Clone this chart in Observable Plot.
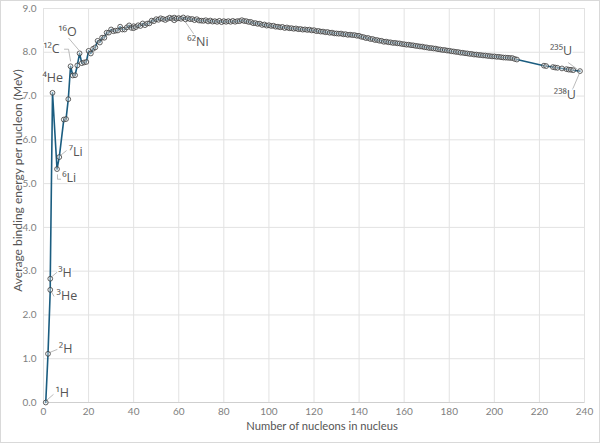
<!DOCTYPE html>
<html><head><meta charset="utf-8">
<script src="https://cdn.jsdelivr.net/npm/d3@7"></script>
<script src="https://cdn.jsdelivr.net/npm/@observablehq/plot@0.6"></script>
<style>
body{margin:0;background:#fff}
#wrap{position:relative;width:600px;height:443px;overflow:hidden}
#border{position:absolute;left:0;top:0;width:600px;height:443px;box-sizing:border-box;border:1px solid #d9d9d9;pointer-events:none}
</style>
</head><body><div id="wrap"><div id="chart"></div><div id="border"></div></div>
<script>
// Mass number A (nucleons) of each nuclide, in drawing order
const massNumbers = [
  1,2,3,3,4,6,7,9,10,11,12,13,14,15,16,17,18,19,20,21,22,23,24,25,26,27,28,29,30,
  31,32,33,34,35,36,37,38,39,40,40,41,42,43,44,45,46,47,48,49,50,51,52,53,54,55,56,57,58,58,
  59,60,61,62,63,64,65,66,67,68,69,70,71,72,73,74,75,76,77,78,79,80,81,82,83,84,85,86,87,88,
  89,90,91,92,93,94,95,96,97,98,99,100,101,102,103,104,105,106,107,108,109,110,111,112,113,114,
  115,116,117,118,119,120,121,122,123,124,125,126,127,128,129,130,131,132,133,134,135,136,137,138,
  139,140,141,142,143,144,145,146,147,148,149,150,151,152,153,154,155,156,157,158,159,160,161,162,
  163,164,165,166,167,168,169,170,171,172,173,174,175,176,177,178,179,180,181,182,183,184,185,186,
  187,188,189,190,191,192,193,194,195,196,197,198,199,200,201,202,203,204,205,206,207,208,209,210,
  222,223,226,227,228,230,232,233,234,235,238
];
// Average binding energy per nucleon (MeV), same order
const bindingEnergies = [
  0.000,1.112,2.573,2.827,7.074,5.332,5.606,6.463,6.475,6.928,7.680,7.470,7.476,7.699,7.976,7.751,7.767,7.779,8.032,7.972,8.080,8.112,8.261,8.223,8.334,8.332,8.448,8.449,8.521,
  8.481,8.493,8.498,8.584,8.520,8.520,8.570,8.614,8.557,8.595,8.551,8.576,8.617,8.601,8.658,8.619,8.656,8.661,8.723,8.711,8.756,8.742,8.776,8.760,8.738,8.765,8.790,8.770,8.792,8.732,
  8.768,8.781,8.765,8.795,8.752,8.777,8.757,8.760,8.734,8.756,8.725,8.722,8.718,8.732,8.705,8.725,8.701,8.711,8.695,8.718,8.688,8.711,8.696,8.711,8.696,8.717,8.697,8.712,8.711,8.733,
  8.714,8.710,8.693,8.693,8.664,8.667,8.649,8.654,8.624,8.635,8.609,8.619,8.601,8.607,8.584,8.585,8.570,8.580,8.554,8.567,8.548,8.551,8.537,8.545,8.527,8.532,
  8.517,8.523,8.510,8.517,8.499,8.505,8.482,8.488,8.472,8.473,8.458,8.463,8.445,8.449,8.431,8.430,8.424,8.428,8.410,8.414,8.398,8.403,8.392,8.393,
  8.378,8.376,8.354,8.346,8.325,8.327,8.303,8.304,8.281,8.280,8.263,8.262,8.239,8.244,8.229,8.227,8.213,8.215,8.204,8.202,8.189,8.184,8.173,8.174,
  8.162,8.159,8.147,8.142,8.132,8.130,8.115,8.112,8.098,8.097,8.087,8.084,8.069,8.064,8.052,8.052,8.039,8.035,8.023,8.018,8.008,8.005,7.991,7.989,
  7.978,7.974,7.963,7.962,7.948,7.948,7.938,7.936,7.927,7.926,7.916,7.914,7.905,7.906,7.896,7.897,7.887,7.880,7.878,7.875,7.870,7.868,7.848,7.834,
  7.694,7.685,7.662,7.651,7.645,7.631,7.615,7.604,7.600,7.591,7.570
];
const xTicks = [0,20,40,60,80,100,120,140,160,180,200,220,240];
const yTicks = [0,1,2,3,4,5,6,7,8,9];

// Labelled nuclides: name, label anchor (data units), text anchor, leader path (data units)
const labelNames   = ["¹H","²H","³H","³He","⁴He","⁶Li","⁷Li","¹²C","¹⁶O","⁶²Ni","²³⁵U","²³⁸U"];
const labelX       = [5.3, 6.8, 6.5, 5.8, 4.1, 8.3, 11.2, 7.2, 10.6, 63.8, 229.6, 231.3];
const labelY       = [0.21, 1.23, 2.96, 2.43, 7.41, 5.12, 5.73, 8.07, 8.47, 8.24, 8.02, 7.02];
const labelAnchors = ["start","start","start","start","middle","start","start","end","middle","start","middle","middle"];
const leaderPaths  = [
  [[1.6,0.06],[4.3,0.18]],
  [[2.6,1.14],[6.0,1.21]],
  [[3.6,2.87],[6.1,2.98]],
  [[3.5,2.53],[4.6,2.43]],
  [],
  [[6.2,5.20],[6.2,5.10],[7.6,5.10]],
  [[7.7,5.65],[10.1,5.75]],
  [[9.3,8.07],[11.1,8.07],[12.0,7.80]],
  [[11.2,8.32],[15.5,8.06]],
  [[62.6,8.72],[67.3,8.37]],
  [[232.9,7.76],[236.6,7.62]],
  [[234.6,7.14],[237.6,7.50]]
];

const nuclides = massNumbers.map((a, i) => ({a, be: bindingEnergies[i]}));
const labels = labelNames.map((name, i) => ({name, x: labelX[i], y: labelY[i], anchor: labelAnchors[i]}));
const leaders = leaderPaths.flatMap((p, i) => p.map(([x, y]) => ({id: i, x, y})));

const font = "Lato, 'Open Sans', sans-serif";
const labelMark = (anchor) => Plot.text(labels.filter(d => d.anchor === anchor), {
  x: "x", y: "y", text: "name", textAnchor: anchor, fontFamily: "'Open Sans', sans-serif",
  fontSize: 12.5, fill: "#555", stroke: "white", strokeWidth: 3
});

const chart = Plot.plot({
  width: 600, height: 443,
  marginLeft: 43, marginRight: 16, marginTop: 8, marginBottom: 41,
  style: {fontFamily: font, background: "#fff"},
  x: {domain: [0, 240], ticks: xTicks},
  y: {domain: [0, 9], ticks: yTicks},
  marks: [
    Plot.gridX(xTicks, {stroke: "#e2e2e2", strokeOpacity: 1}),
    Plot.gridY(yTicks, {stroke: "#e2e2e2", strokeOpacity: 1}),
    Plot.frame({stroke: "#e2e2e2"}),
    Plot.ruleY([0], {stroke: "#cfcfcf"}),
    Plot.axisX(xTicks, {tickSize: 0, tickPadding: 5, fontSize: 10, fill: "#808080", label: null}),
    Plot.axisY(yTicks, {tickSize: 0, tickPadding: 7, fontSize: 10, fill: "#808080", label: null, tickFormat: d3.format(".1f")}),
    Plot.text(["Number of nucleons in nucleus"], {frameAnchor: "bottom", dy: 27, dx: 8, fontSize: 11.2, fill: "#555"}),
    Plot.text(["Average binding energy per nucleon (MeV)"], {frameAnchor: "left", textAnchor: "middle", rotate: -90, dx: -25, dy: -25, fontSize: 12, fill: "#555"}),
    Plot.line(leaders, {x: "x", y: "y", z: "id", stroke: "#aaa", strokeWidth: 0.8}),
    labelMark("start"),
    labelMark("middle"),
    labelMark("end"),
    Plot.line(nuclides, {x: "a", y: "be", stroke: "#1b5d80", strokeWidth: 1.6}),
    Plot.dot(nuclides, {x: "a", y: "be", r: 2.4, stroke: "#3a3a3a", strokeWidth: 0.8, fill: "#ffffff", fillOpacity: 0.35})
  ]
});
document.getElementById("chart").appendChild(chart);
</script></body></html>
